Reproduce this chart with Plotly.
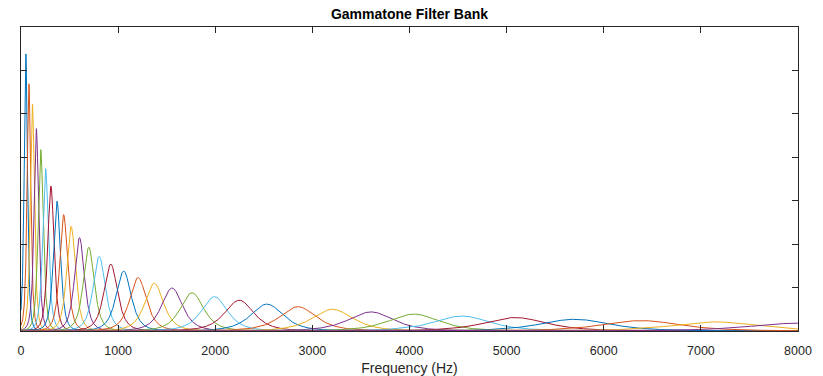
import numpy as np
import plotly.graph_objects as go

# Centre frequencies (Hz) of the 32 filters, read from the peak positions
center_freqs_hz = [50, 82, 118, 158, 203, 253, 308, 370, 439, 516, 602, 698,
                   805, 924, 1057, 1205, 1371, 1555, 1761, 1991, 2247, 2532,
                   2851, 3207, 3603, 4045, 4538, 5088, 5702, 6386, 7149, 8000]

# Peak magnitudes (axis units, 0..7)
peak_gain = [6.38, 5.69, 5.22, 4.66, 4.18, 3.74, 3.34, 2.99, 2.68, 2.41, 2.15,
             1.93, 1.72, 1.54, 1.38, 1.23, 1.10, 0.99, 0.88, 0.79, 0.71, 0.62,
             0.56, 0.50, 0.44, 0.39, 0.345, 0.31, 0.27, 0.24, 0.21, 0.18]

x_ticks = [0, 1000, 2000, 3000, 4000, 5000, 6000, 7000, 8000]

colors = ["#0072BD", "#D95319", "#EDB120", "#7E2F8E", "#77AC30", "#4DBEEE", "#A2142F"]

freq = np.arange(0, 8001, 2.0)
ORDER = 4

fig = go.Figure()
for i, (fc, g) in enumerate(zip(center_freqs_hz, peak_gain)):
    erb = 24.7 * (4.37 * fc / 1000.0 + 1.0)
    b = 1.019 * erb
    mag = g * (1.0 + ((freq - fc) / b) ** 2) ** (-ORDER / 2)
    fig.add_trace(go.Scatter(
        x=freq, y=np.round(mag, 5), mode="lines",
        line=dict(color=colors[i % len(colors)], width=1),
        hoverinfo="skip", showlegend=False))

axis_col = "#262626"
fig.update_layout(
    width=823, height=376,
    margin=dict(l=21, r=25, t=27, b=45, autoexpand=False),
    paper_bgcolor="white", plot_bgcolor="white",
    font=dict(family="Liberation Sans, Arial, sans-serif", color=axis_col),
    title=dict(text="<b>Gammatone Filter Bank</b>", x=0.4976, xanchor="center",
               y=1 - 14.5 / 376, yanchor="middle", yref="container",
               font=dict(size=14, color="black")),
    xaxis=dict(range=[0, 8000], tickvals=x_ticks, ticktext=[str(v) for v in x_ticks],
               ticks="inside", ticklen=6, tickcolor=axis_col, tickwidth=1,
               showline=True, linecolor=axis_col, linewidth=1, mirror="ticks",
               showgrid=False, zeroline=False, automargin=False,
               ticklabelstandoff=8,
               tickfont=dict(size=12.5, color=axis_col),
               title=dict(text="Frequency (Hz)", font=dict(size=14, color=axis_col), standoff=6)),
    yaxis=dict(range=[0, 7], dtick=1, tick0=0,
               ticks="inside", ticklen=6, tickcolor=axis_col, tickwidth=1,
               showline=True, linecolor=axis_col, linewidth=1, mirror="ticks",
               showgrid=False, zeroline=False, showticklabels=False, automargin=False),
)

fig.write_html("out.html", config={"displayModeBar": False},
               post_script="document.body.style.margin='0';")
